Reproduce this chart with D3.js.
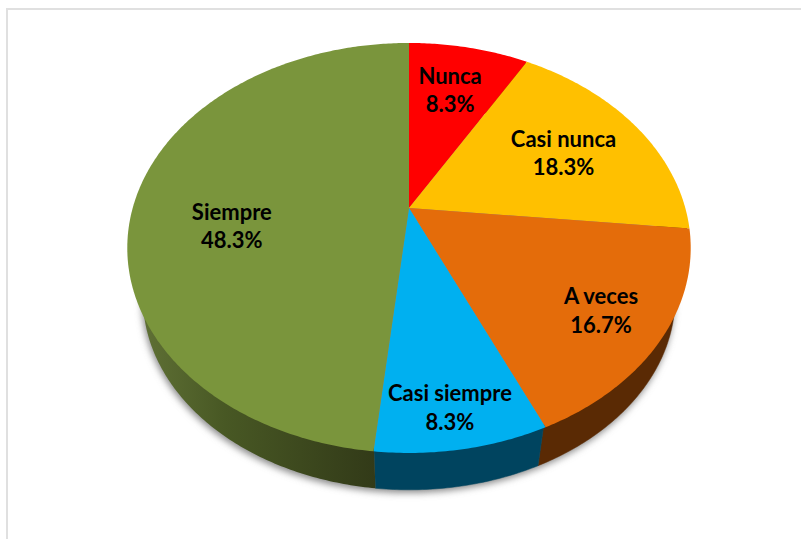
<!DOCTYPE html>
<html>
<head>
<meta charset="utf-8">
<script src="https://cdn.jsdelivr.net/npm/d3@7"></script>
<style>
    html, body { margin: 0; padding: 0; background: #fff; overflow: hidden; }
    svg { display: block; }
    text { font-family: Lato, "Open Sans", sans-serif; font-weight: bold; font-size: 22px; fill: #000; }
</style>
</head>
<body>
<svg id="chart"></svg>
<script>
var categories = ["Nunca", "Casi nunca", "A veces", "Casi siempre", "Siempre"];
var percents = [8.3, 18.3, 16.7, 8.3, 48.3];

var topColors = ["#ff0000", "#ffc000", "#e46c0a", "#00b0f0", "#7a953c"];
var sideColors = ["#800000", "#806000", "#5a2a04", "#00445f", "url(#greenSide)"];

var width = 801;
var height = 539;

// the pie is drawn in perspective: the apex is not at the middle of the rim ellipse
var perspective = 0.195;
var topFace = {cx: 409, cy: 208, rx: 276.3, ry: 197.2};
var lowerRim = {cx: 409, cy: 260, rx: 261, ry: 185};

// label placement, as a fraction of the radius along each slice's middle angle
var labelRadius = [0.7, 0.67, 0.8, 0.85, 0.65];
var labelShift = [[-3, 0], [-1, 2], [-5, 1], [-3, 2], [1, 25]];

var svg = d3.select("#chart").attr("width", width).attr("height", height);

/* ~~~~~~~~~ FRAME ~~~~~~~~~ */
svg.append("path")
    .attr("d", "M7," + height + "V9H" + width)
    .attr("fill", "none")
    .attr("stroke", "#e0e0e0")
    .attr("stroke-width", 2);

/* ~~~~~~~~~ DEFS ~~~~~~~~~ */
var defs = svg.append("defs");

var shadow = defs.append("filter").attr("id", "pieShadow")
    .attr("x", "-10%").attr("y", "-10%").attr("width", "120%").attr("height", "120%");
shadow.append("feGaussianBlur").attr("stdDeviation", 3.5);

var greenSide = defs.append("linearGradient").attr("id", "greenSide")
    .attr("gradientUnits", "userSpaceOnUse")
    .attr("x1", 143).attr("x2", 376).attr("y1", 0).attr("y2", 0);
greenSide.append("stop").attr("offset", "0%").attr("stop-color", "#5f7035");
greenSide.append("stop").attr("offset", "35%").attr("stop-color", "#485824");
greenSide.append("stop").attr("offset", "100%").attr("stop-color", "#323a18");

/* ~~~~~~~~~ GEOMETRY ~~~~~~~~~ */
// angle 0 is at the top, clockwise. r is a fraction of the radius.
function project(face, angle, r) {
    var u = r * Math.sin(angle);
    var v = -r * Math.cos(angle);
    var w = 1 - perspective * v;
    return [face.cx + face.rx * u / w, face.cy + face.ry * v / w];
}

function rim(face, d, r) {
    var steps = Math.ceil((d.endAngle - d.startAngle) * 90);
    return d3.range(steps + 1).map(function(i) {
        return project(face, d.startAngle + (d.endAngle - d.startAngle) * i / steps, r);
    });
}

var line = d3.line();

var slices = d3.pie().sort(null).value(function(d) { return d; })(percents);

/* ~~~~~~~~~ SHADOW ~~~~~~~~~ */
svg.append("path")
    .attr("d", line(d3.range(361).map(function(i) {
        return project(lowerRim, i * Math.PI / 180, 1);
    })))
    .attr("transform", "translate(-1,3)")
    .attr("fill", "#8a8a8a")
    .attr("filter", "url(#pieShadow)");

/* ~~~~~~~~~ SIDE WALLS ~~~~~~~~~ */
// upper edge sits just inside the top face so no dark fringe shows round the back of the rim
svg.append("g").selectAll("path")
    .data(slices)
    .enter()
    .append("path")
    .attr("d", function(d) {
        return line(rim(topFace, d, 0.99).concat(rim(lowerRim, d, 1).reverse())) + "Z";
    })
    .attr("fill", function(d, i) { return sideColors[i]; })
    .attr("stroke", function(d, i) { return i === 4 ? "none" : sideColors[i]; })
    .attr("stroke-width", 0.5);

/* ~~~~~~~~~ TOP FACE ~~~~~~~~~ */
svg.append("g").selectAll("path")
    .data(slices)
    .enter()
    .append("path")
    .attr("d", function(d) {
        return line([project(topFace, 0, 0)].concat(rim(topFace, d, 1))) + "Z";
    })
    .attr("fill", function(d, i) { return topColors[i]; });

/* ~~~~~~~~~ LABELS ~~~~~~~~~ */
var label = svg.append("g").selectAll("text")
    .data(slices)
    .enter()
    .append("text")
    .attr("text-anchor", "middle")
    .attr("transform", function(d, i) {
        var p = project(topFace, (d.startAngle + d.endAngle) / 2, labelRadius[i]);
        return "translate(" + (p[0] + labelShift[i][0]) + "," + (p[1] + labelShift[i][1]) + ")";
    });

label.append("tspan")
    .attr("x", 0)
    .attr("y", -6.5)
    .text(function(d, i) { return categories[i]; });

label.append("tspan")
    .attr("x", 0)
    .attr("y", 22)
    .text(function(d) { return d.value.toFixed(1) + "%"; });
</script>
</body>
</html>
